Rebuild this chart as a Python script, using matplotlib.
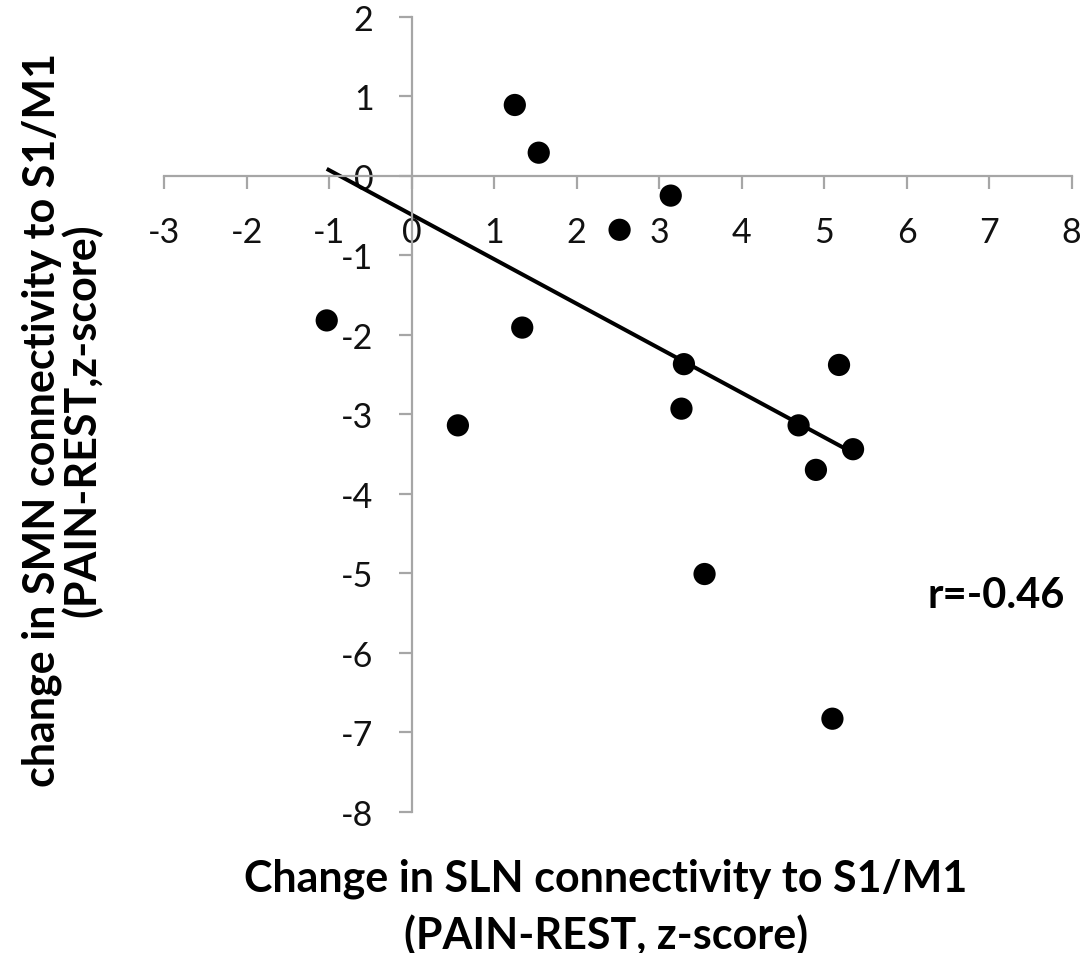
#!/usr/bin/env python3
# coding: utf-8

import numpy as np
import matplotlib
matplotlib.use("Agg")
import matplotlib.pyplot as plt

plt.rcParams['font.family'] = ['Lato', 'DejaVu Sans']

# data
SLN_CHANGE = [1.25, 1.54, 3.14, 2.52, -1.03, 1.34, 0.56, 3.30, 3.27,
              5.18, 4.69, 5.35, 4.90, 3.55, 5.10]
SMN_CHANGE = [0.89, 0.29, -0.25, -0.68, -1.82, -1.91, -3.14, -2.37, -2.93,
              -2.38, -3.14, -3.44, -3.70, -5.01, -6.83]
TREND_SLOPE = -0.56
TREND_INTERCEPT = -0.49
R_TEXT = "r=-0.46"
XTICKS = list(range(-3, 9))
YTICKS = list(range(-8, 3))
XLABEL = "Change in SLN connectivity to S1/M1\n(PAIN-REST, z-score)"
YLABEL = "change in SMN connectivity to S1/M1\n(PAIN-REST,z-score)"

AXIS_COLOR = "#a6a6a6"

fig = plt.figure(figsize=(10.86, 9.54), dpi=100)
ax = fig.add_axes([0.1512, 0.1481, 0.8356, 0.8333])

ax.scatter(SLN_CHANGE, SMN_CHANGE, s=16 ** 2, color="black", zorder=3,
           edgecolors="none")
xs = np.array([min(SLN_CHANGE), max(SLN_CHANGE)])
ax.plot(xs, TREND_SLOPE * xs + TREND_INTERCEPT, color="black", lw=2.9,
        zorder=2, solid_capstyle="butt")

ax.set_xlim(-3, 8)
ax.set_ylim(-8, 2)
ax.set_xticks(XTICKS)
ax.set_yticks(YTICKS)
ax.set_xticklabels([str(t) for t in XTICKS])
ax.set_yticklabels([str(t) for t in YTICKS])

# axes cross at the origin, excel style
for side in ("top", "right"):
    ax.spines[side].set_visible(False)
for side in ("left", "bottom"):
    ax.spines[side].set_position(("data", 0))
    ax.spines[side].set_color(AXIS_COLOR)
    ax.spines[side].set_linewidth(1.6)
ax.tick_params(axis="both", direction="out", length=9.5, width=1.6,
               color=AXIS_COLOR, labelsize=24.5, labelcolor="#111111")
ax.tick_params(axis="x", pad=19.5)
ax.tick_params(axis="y", pad=18)
ax.set_facecolor("none")

fig.text(606 / 1086, 1 - 907 / 954, XLABEL, ha="center", va="center",
         fontsize=31, fontweight="bold", linespacing=1.45)
fig.text(62 / 1086, 1 - 420 / 954, YLABEL, ha="center", va="center",
         rotation=90, fontsize=31, fontweight="bold", linespacing=0.98)
fig.text(928 / 1086, 1 - 596 / 954, R_TEXT, ha="left", va="center",
         fontsize=30, fontweight="bold")

fig.savefig("out.png", dpi=100)
